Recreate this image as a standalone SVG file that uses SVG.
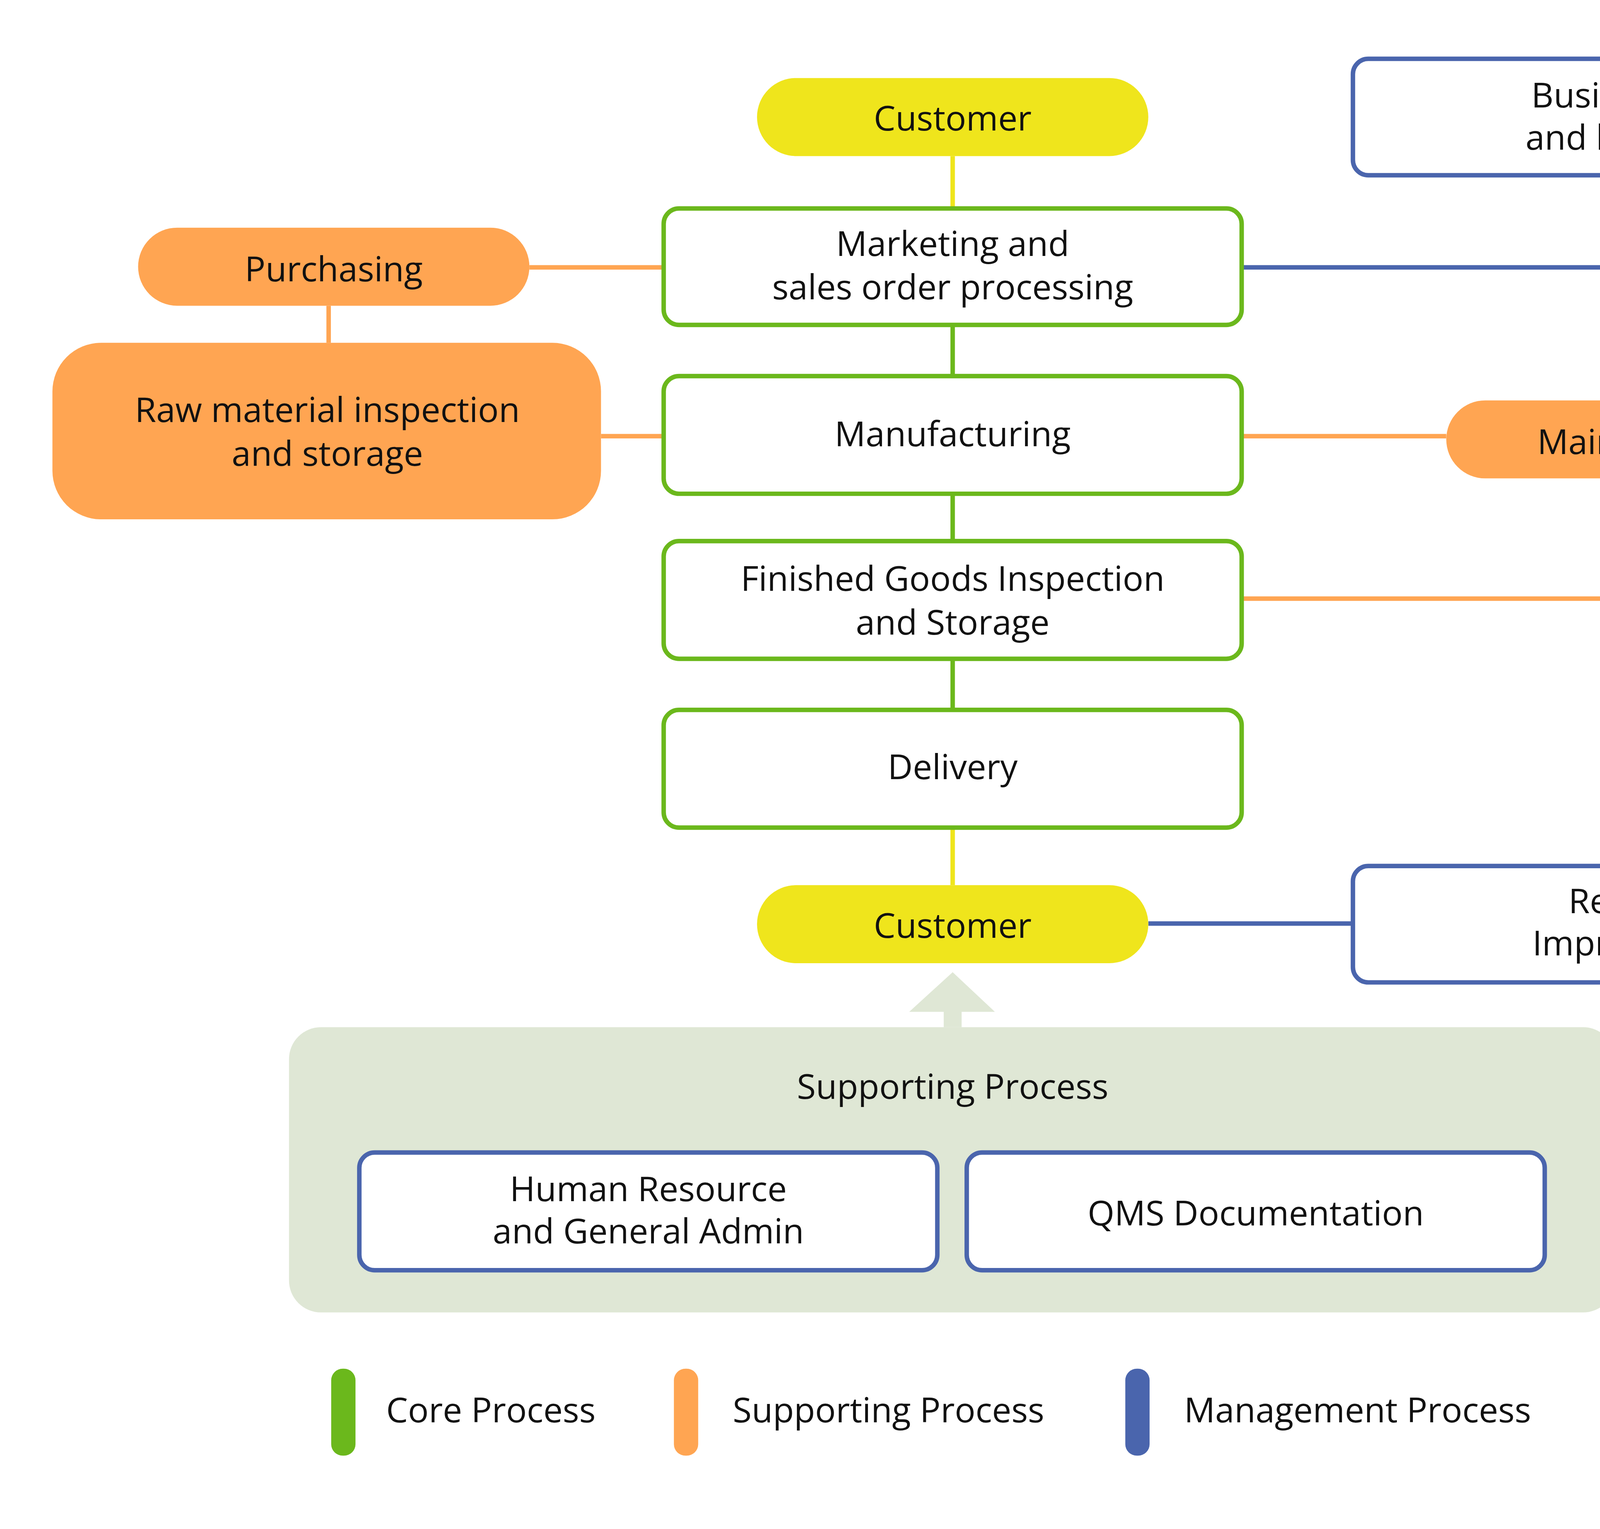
<svg xmlns="http://www.w3.org/2000/svg" width="5133" height="3913" viewBox="0 0 5133 3913">
<style>
text{font-family:"Open Sans","Noto Sans","Liberation Sans",sans-serif;font-size:27px;fill:#111;text-anchor:middle;font-weight:500}
.core{fill:#fff;stroke:#6BB81C;stroke-width:3.5}
.mgmt{fill:#fff;stroke:#4A65AD;stroke-width:3.5}
.cust{fill:#EFE51C}
.sup{fill:#FFA552}
.lc{stroke:#6BB81C;stroke-width:3.5;fill:none}
.ly{stroke:#EFE51C;stroke-width:3.5;fill:none}
.lo{stroke:#FFA552;stroke-width:3.5;fill:none}
.lb{stroke:#4A65AD;stroke-width:3.5;fill:none}
</style>
<rect width="5133" height="3913" fill="#fff"/>
<g transform="scale(3.2736)">
<g id="connectors">
<line class="ly" x1="745" y1="122" x2="745" y2="163"/>
<line class="lc" x1="745" y1="254" x2="745" y2="294"/>
<line class="lc" x1="745" y1="386" x2="745" y2="423"/>
<line class="lc" x1="745" y1="515" x2="745" y2="555"/>
<line class="ly" x1="745" y1="647" x2="745" y2="692"/>
<line class="lo" x1="414" y1="209" x2="519" y2="209"/>
<line class="lo" x1="257" y1="239" x2="257" y2="268"/>
<line class="lo" x1="470" y1="341" x2="519" y2="341"/>
<line class="lo" x1="971" y1="341" x2="1131" y2="341"/>
<polyline class="lo" points="1285,374 1285,468 971,468"/>
<polyline class="lb" points="971,209 1478,209 1478,677"/>
<line class="lb" x1="1285" y1="137" x2="1285" y2="209"/>
<line class="lb" x1="898" y1="722" x2="1058" y2="722"/>
</g>
<g id="customer-top"><rect class="cust" x="592" y="61" width="306" height="61" rx="30.5"/><text x="745" y="102">Customer</text></g>
<g id="marketing"><rect class="core" x="519" y="163" width="452" height="91" rx="12"/><text x="745" y="200">Marketing and</text><text x="745" y="234">sales order processing</text></g>
<g id="manufacturing"><rect class="core" x="519" y="294" width="452" height="92" rx="12"/><text x="745" y="349">Manufacturing</text></g>
<g id="finished"><rect class="core" x="519" y="423" width="452" height="92" rx="12"/><text x="745" y="462">Finished Goods Inspection</text><text x="745" y="496">and Storage</text></g>
<g id="delivery"><rect class="core" x="519" y="555" width="452" height="92" rx="12"/><text x="745" y="609">Delivery</text></g>
<g id="customer-bottom"><rect class="cust" x="592" y="692" width="306" height="61" rx="30.5"/><text x="745" y="733">Customer</text></g>
<g id="business-plan"><rect class="mgmt" x="1058" y="46" width="452" height="91" rx="12"/><text x="1284" y="84">Business plan</text><text x="1284" y="117">and budgeting</text></g>
<g id="review"><rect class="mgmt" x="1058" y="677" width="452" height="91" rx="12"/><text x="1284" y="714">Review &amp;</text><text x="1284" y="747">Improvement</text></g>
<g id="purchasing"><rect class="sup" x="108" y="178" width="306" height="61" rx="30.5"/><text x="261" y="220">Purchasing</text></g>
<g id="raw-material"><rect class="sup" x="41" y="268" width="429" height="138" rx="38"/><text x="256" y="330">Raw material inspection</text><text x="256" y="364">and storage</text></g>
<g id="maintenance"><rect class="sup" x="1131" y="313" width="306" height="61" rx="30.5"/><text x="1284" y="355">Maintenance</text></g>
<g id="supporting-process">
<polygon points="745,760 778,791 752,791 752,803 738,803 738,791 711,791" fill="#DFE7D5"/>
<rect x="226" y="803" width="1037" height="223" rx="25" fill="#DFE7D5"/>
<text x="745" y="859">Supporting Process</text>
</g>
<g id="hr"><rect class="mgmt" x="281" y="901" width="452" height="92" rx="12"/><text x="507" y="939">Human Resource</text><text x="507" y="972">and General Admin</text></g>
<g id="qms"><rect class="mgmt" x="756" y="901" width="452" height="92" rx="12"/><text x="982" y="958">QMS Documentation</text></g>
<g id="legend">
<rect x="259" y="1070" width="19" height="68" rx="9" fill="#6BB81C"/><text x="302" y="1112" style="text-anchor:start">Core Process</text>
<rect x="527" y="1070" width="19" height="68" rx="9" fill="#FFA552"/><text x="573" y="1112" style="text-anchor:start">Supporting Process</text>
<rect x="880" y="1070" width="19" height="68" rx="9" fill="#4A65AD"/><text x="926" y="1112" style="text-anchor:start">Management Process</text>
</g>
</g>
</svg>
